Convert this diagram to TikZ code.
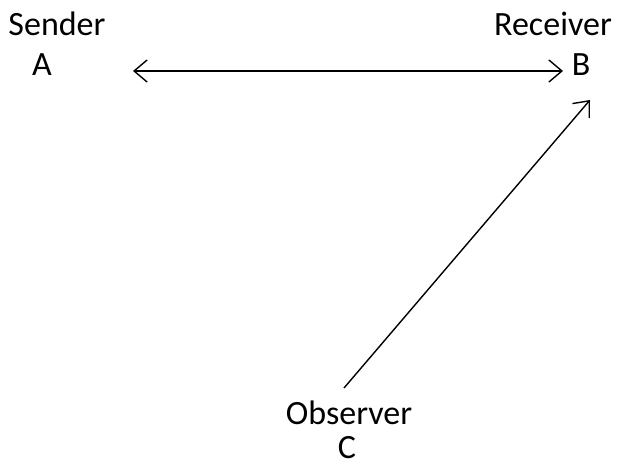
\documentclass[tikz,border=0pt]{standalone}
\usepackage{fontspec}
\setmainfont{Carlito}
\usetikzlibrary{arrows.meta}

\tikzset{
  lbl/.style={inner sep=0pt, font=\fontsize{34}{40}\selectfont},
  link/.style={line width=1.4pt, >={Straight Barb[length=13pt, width=22pt, line width=1.4pt]}},
}

\begin{document}
\begin{tikzpicture}[x=1pt, y=-1pt]
  \useasboundingbox (0,0) rectangle (621,468);
  % parties
  \node[lbl] (sender)   at (57,24)  {Sender};
  \node[lbl] (a)        at (42,65)  {A};
  \node[lbl] (receiver) at (553,24) {Receiver};
  \node[lbl] (b)        at (581,65) {B};
  \node[lbl] (observer) at (349,413) {Observer};
  \node[lbl] (c)        at (347,448) {C};
  % ends of the lines
  \coordinate (a-out) at (133,71);
  \coordinate (b-in)  at (563,71);
  \coordinate (c-out) at (344,388);
  \coordinate (b-low) at (590,100);
  \draw[link, <->] (a-out) -- (b-in);
  \draw[link, ->] (c-out) -- (b-low);
\end{tikzpicture}
\end{document}
